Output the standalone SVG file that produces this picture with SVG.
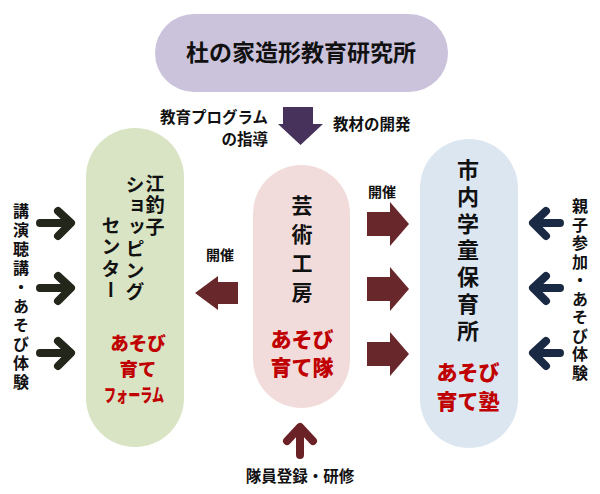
<svg xmlns="http://www.w3.org/2000/svg" width="600" height="494" viewBox="0 0 600 494">
<defs>
<style>
text{font-family:"Noto Sans CJK JP","Noto Sans",sans-serif;font-weight:700;fill:#111}
.v{writing-mode:vertical-rl}
.red{fill:#c00000;font-weight:900}
.lbl{font-size:15.5px}
.chevL{fill:none;stroke:#23261a;stroke-width:8;stroke-linecap:round;stroke-linejoin:round}
.chevR{fill:none;stroke:#1b2a44;stroke-width:8;stroke-linecap:round;stroke-linejoin:round}
.chevU{fill:none;stroke:#6b2226;stroke-width:8;stroke-linecap:round;stroke-linejoin:round}
.blk{fill:#68272a}
</style>
</defs>
<rect width="600" height="494" fill="#fff"/>

<g id="institute">
<rect x="155" y="14" width="293" height="78" rx="39" fill="#cbc2db"/>
<text x="301" y="61" font-size="23" text-anchor="middle">杜の家造形教育研究所</text>
</g>

<g id="shopping-center">
<rect x="86" y="128" width="98" height="319" rx="49" fill="#d8e4c3"/>
<text class="v" x="155" y="174" font-size="19" letter-spacing="2.5">江釣子</text>
<text class="v" x="135" y="175" font-size="19" letter-spacing="2.5">ショッピング</text>
<text class="v" x="111" y="302" font-size="19" letter-spacing="2.5" text-anchor="end">センター</text>
<text class="red" x="138" y="350" font-size="18.5" text-anchor="middle">あそび</text>
<text class="red" x="138" y="376" font-size="18.5" text-anchor="middle">育て</text>
<text class="red" x="134" y="402" font-size="18" text-anchor="middle" textLength="60" lengthAdjust="spacingAndGlyphs">フォーラム</text>
</g>

<g id="art-studio">
<rect x="253" y="165" width="97" height="243" rx="48.5" fill="#f2dcdb"/>
<text class="v" x="302" y="195" font-size="21" letter-spacing="8">芸術工房</text>
<text class="red" x="302" y="347" font-size="21" text-anchor="middle">あそび</text>
<text class="red" x="302" y="375" font-size="21" text-anchor="middle">育て隊</text>
</g>

<g id="nursery">
<rect x="420" y="139" width="98" height="309" rx="49" fill="#dce6f1"/>
<text class="v" x="468" y="159" font-size="22" letter-spacing="4.7">市内学童保育所</text>
<text class="red" x="468" y="380" font-size="21" text-anchor="middle">あそび</text>
<text class="red" x="468" y="409" font-size="21" text-anchor="middle">育て塾</text>
</g>

<g id="labels">
<text class="lbl" x="268" y="123" text-anchor="end">教育プログラム</text>
<text class="lbl" x="268" y="145" text-anchor="end">の指導</text>
<text class="lbl" x="333" y="130">教材の開発</text>
<text x="220" y="260" font-size="14" text-anchor="middle">開催</text>
<text x="382" y="197" font-size="14" text-anchor="middle">開催</text>
<text class="v" x="21" y="203" font-size="16" letter-spacing="3">講演聴講・あそび体験</text>
<text class="v" x="580" y="198" font-size="16" letter-spacing="2.5">親子参加・あそび体験</text>
<text class="lbl" x="300" y="482" text-anchor="middle">隊員登録・研修</text>
</g>

<g id="connectors">
<polygon points="283,107 313,107 313,124 323,124 300.5,145 278,124 283,124" fill="#46325a"/>
<polygon class="blk" points="238,282 218,282 218,276 195,293 218,310 218,304 238,304"/>
<polygon class="blk" points="367,212 390,212 390,202 409,224 390,246 390,236 367,236"/>
<polygon class="blk" points="367,277 390,277 390,267 409,289 390,311 390,301 367,301"/>
<polygon class="blk" points="367,342 390,342 390,332 409,354 390,376 390,366 367,366"/>
<path class="chevL" d="M40,223 H69 M58,211 L71,223 L58,236"/>
<path class="chevL" d="M40,288 H69 M58,276 L71,288 L58,301"/>
<path class="chevL" d="M40,353 H69 M58,341 L71,353 L58,366"/>
<path class="chevR" d="M560,223 H535 M546,211 L533,223 L546,236"/>
<path class="chevR" d="M560,288 H535 M546,276 L533,288 L546,301"/>
<path class="chevR" d="M560,353 H535 M546,341 L533,353 L546,366"/>
<path class="chevU" d="M300,455 V430 M287,441 L300,427 L313,441"/>
</g>
</svg>
